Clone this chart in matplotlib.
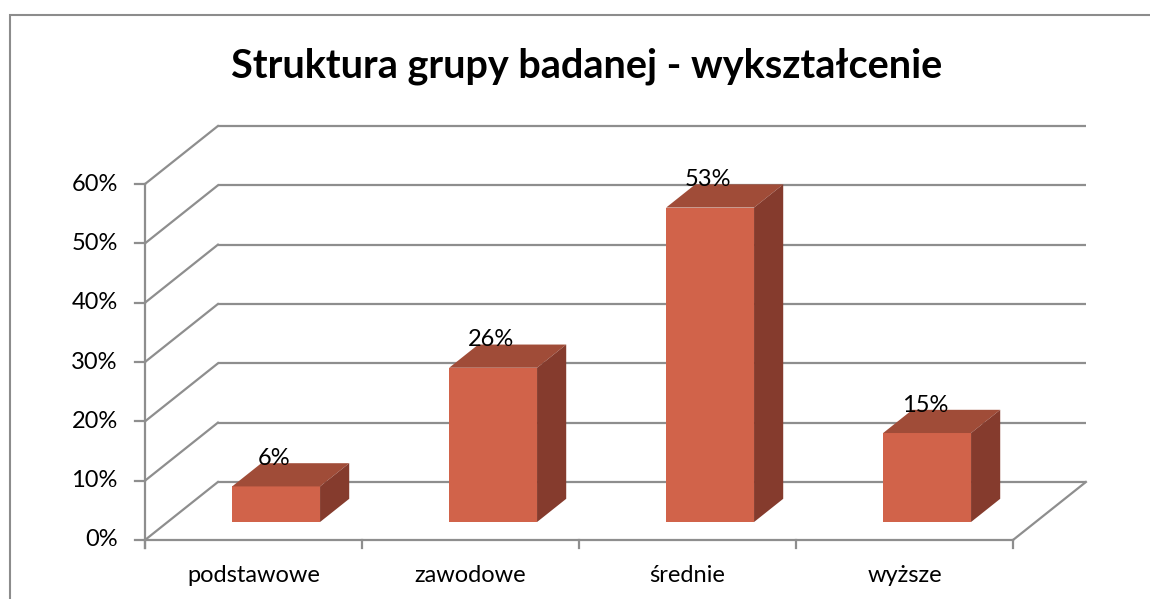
import numpy as np
import matplotlib
matplotlib.use('Agg')
import matplotlib.pyplot as plt
from matplotlib.patches import Polygon, Rectangle

# data
categories = ['podstawowe', 'zawodowe', 'średnie', 'wyższe']
values = [6, 26, 53, 15]
labels = ['6%', '26%', '53%', '15%']
yticks = [0, 10, 20, 30, 40, 50, 60]
title = 'Struktura grupy badanej - wykształcenie'

plt.rcParams['font.family'] = ['Lato', 'DejaVu Sans']

fig = plt.figure(figsize=(11.5, 5.99), dpi=100)
ax = fig.add_axes([0, 0, 1, 1])
# axes spans the whole figure, front plane: x=0..4 -> px 145..1013, y=0..60 -> px 540..184
ax.set_xlim(-145 / 217, (1150 - 145) / 217)
ax.set_ylim((540 - 599) / 5.933, 540 / 5.933)
ax.axis('off')

# frame around the chart
fig.patches.append(Rectangle((10 / 1150, -0.1), 1.2, 1 - 15 / 599 + 0.1, transform=fig.transFigure,
                             fill=False, edgecolor='#8c8c8c', lw=1.5))

dx, dy = 0.336, 9.78      # depth of the 3D box in data units
grid_c = '#8e8e8e'
lw = 1.6
n = len(categories)

# back wall gridlines + side wall diagonals
for v in yticks:
    ax.plot([dx, n + dx], [v + dy, v + dy], color=grid_c, lw=lw, solid_capstyle='butt')
    ax.plot([0, dx], [v, v + dy], color=grid_c, lw=lw)
    ax.plot([-0.046, 0], [v, v], color=grid_c, lw=lw)
    ax.text(-0.125, v, f'{v}%', ha='right', va='center', fontsize=17)

# front axis & floor
ax.plot([0, 0], [-1.35, yticks[-1]], color=grid_c, lw=lw)
ax.plot([0, n], [0, 0], color=grid_c, lw=lw)
ax.plot([n, n + dx], [0, dy], color=grid_c, lw=lw)
for i in range(n + 1):
    ax.plot([i, i], [-1.35, 0], color=grid_c, lw=lw)

# bars
front_c = '#d1634a'
top_c = '#a04c38'
side_c = '#853b2d'
f = 0.31      # how far back the bar's front face sits
bd = 0.4      # bar depth as share of box depth
w = 0.405
xs = np.arange(n) + 0.5 + f * dx
ax.bar(xs, values, width=w, bottom=f * dy, color=front_c, zorder=3)
for x, v, lab in zip(xs, values, labels):
    x0, x1 = x - w / 2, x + w / 2
    y0, y1 = f * dy, f * dy + v
    top = [(x0, y1), (x1, y1), (x1 + bd * dx, y1 + bd * dy), (x0 + bd * dx, y1 + bd * dy)]
    side = [(x1, y0), (x1 + bd * dx, y0 + bd * dy), (x1 + bd * dx, y1 + bd * dy), (x1, y1)]
    ax.add_patch(Polygon(top, closed=True, facecolor=top_c, edgecolor='none', zorder=3))
    ax.add_patch(Polygon(side, closed=True, facecolor=side_c, edgecolor='none', zorder=3))
    ax.text(x - 0.01, y1 + bd * dy + 0.8, lab, ha='center', va='center', fontsize=17, zorder=4)

for i, c in enumerate(categories):
    ax.text(i + 0.5, -5.9, c, ha='center', va='center', fontsize=17)

fig.text(587 / 1150, 1 - 66 / 599, title, ha='center', va='center', fontsize=28.5, fontweight='bold')

fig.savefig('out.png', dpi=100)
